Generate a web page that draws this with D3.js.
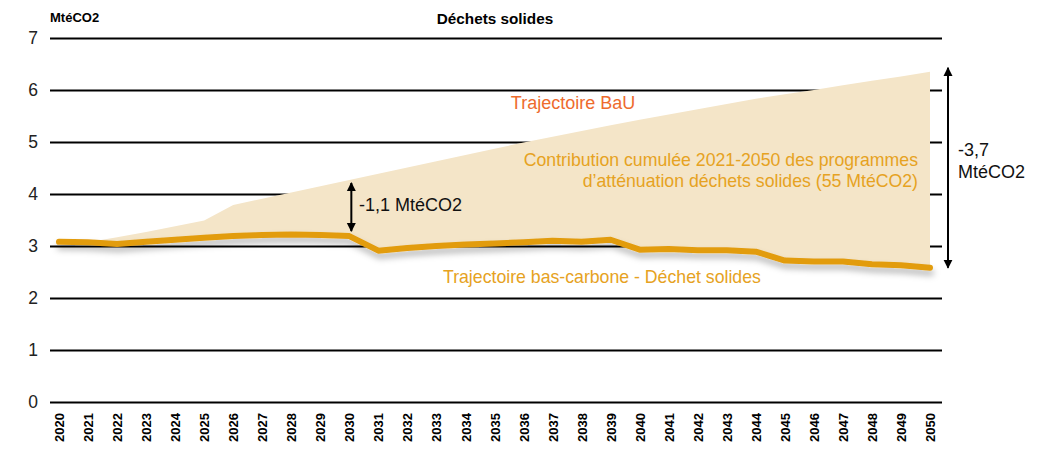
<!DOCTYPE html>
<html>
<head>
<meta charset="utf-8">
<script src="https://cdn.jsdelivr.net/npm/d3@7"></script>
<style>
  html, body { margin: 0; padding: 0; background: #fff; }
  svg { display: block; font-family: "Liberation Sans", Arial, sans-serif; }
</style>
</head>
<body>
<svg id="chart" width="1049" height="452"></svg>
<script>
// Years on the horizontal axis
const years = [2020, 2021, 2022, 2023, 2024, 2025, 2026, 2027, 2028, 2029, 2030,
  2031, 2032, 2033, 2034, 2035, 2036, 2037, 2038, 2039, 2040,
  2041, 2042, 2043, 2044, 2045, 2046, 2047, 2048, 2049, 2050];

// Business-as-usual emissions (MtéCO2)
const bau = [3.08, 3.07, 3.17, 3.27, 3.38, 3.49, 3.79, 3.91, 4.03, 4.15, 4.27,
  4.39, 4.51, 4.63, 4.75, 4.87, 4.99, 5.10, 5.21, 5.32, 5.43,
  5.53, 5.63, 5.73, 5.83, 5.92, 6.00, 6.09, 6.18, 6.26, 6.35];

// Low-carbon pathway for solid waste (MtéCO2)
const lowCarbon = [3.08, 3.07, 3.04, 3.08, 3.12, 3.16, 3.19, 3.21, 3.22, 3.21, 3.19,
  2.91, 2.96, 3.00, 3.03, 3.05, 3.07, 3.10, 3.08, 3.12, 2.93,
  2.94, 2.92, 2.92, 2.89, 2.72, 2.70, 2.70, 2.65, 2.63, 2.58];

const yTicks = [0, 1, 2, 3, 4, 5, 6, 7];

// Gap annotations: year and label lines
const gap2030 = { year: 2030, label: ["-1,1 MtéCO2"] };
const gap2050 = { year: 2050, label: ["-3,7", "MtéCO2"] };

const rows = years.map((yr, i) => ({ year: yr, bau: bau[i], low: lowCarbon[i] }));

const svg = d3.select("#chart");
const FONT = "Liberation Sans, Arial, sans-serif";

const x = d3.scalePoint().domain(years).range([59, 930]);
const y = d3.scaleLinear().domain([0, 7]).range([402, 38]);

const gridLeft = 50, gridRight = 942;

// Soft shadow beneath the low-carbon line
const defs = svg.append("defs");
const f = defs.append("filter").attr("id", "shadow")
  .attr("x", "-5%").attr("y", "-50%").attr("width", "110%").attr("height", "200%");
f.append("feDropShadow").attr("dx", 1).attr("dy", 5).attr("stdDeviation", 3)
  .attr("flood-color", "#000").attr("flood-opacity", 0.28);

defs.append("marker").attr("id", "arrow")
  .attr("viewBox", "0 0 10 10").attr("refX", 9).attr("refY", 5)
  .attr("markerWidth", 4.5).attr("markerHeight", 6.5)
  .attr("markerUnits", "strokeWidth")
  .attr("orient", "auto-start-reverse")
  .append("path").attr("d", "M0,0 L10,5 L0,10 Z").attr("fill", "#000");

// Horizontal gridlines and y tick labels
const yAxis = d3.axisLeft(y).tickValues(yTicks).tickFormat(d3.format("d"))
  .tickSize(-(gridRight - gridLeft)).tickPadding(12);
const gy = svg.append("g").attr("transform", `translate(${gridLeft},0)`).call(yAxis);
gy.select(".domain").remove();
gy.selectAll(".tick line").attr("stroke", "#000").attr("stroke-width", 2);
gy.selectAll(".tick text").attr("font-size", 17.5).attr("fill", "#222")
  .attr("font-family", FONT);

// Cumulative mitigation area between BaU and the low-carbon pathway
const area = d3.area()
  .x(d => x(d.year))
  .y0(d => y(d.low))
  .y1(d => y(d.bau));
svg.append("path").datum(rows).attr("d", area).attr("fill", "#F4E5C8");

// Low-carbon pathway line
const line = d3.line().x(d => x(d.year)).y(d => y(d.low));
svg.append("path").datum(rows).attr("d", line)
  .attr("fill", "none").attr("stroke", "#E29C10").attr("stroke-width", 6)
  .attr("stroke-linecap", "round").attr("stroke-linejoin", "round")
  .attr("filter", "url(#shadow)");

// X axis year labels (rotated)
const xAxis = d3.axisBottom(x).tickSize(0).tickPadding(0);
const gx = svg.append("g").attr("transform", "translate(0,413)").call(xAxis);
gx.select(".domain").remove();
gx.selectAll(".tick text")
  .attr("font-size", 13).attr("font-weight", "bold").attr("fill", "#000")
  .attr("font-family", FONT)
  .attr("transform", "rotate(-90)")
  .attr("text-anchor", "end")
  .attr("dx", 0).attr("dy", "0.35em").attr("x", 0).attr("y", 0);

// Titles
svg.append("text").attr("x", 50).attr("y", 22).text("MtéCO2")
  .attr("font-size", 13).attr("font-weight", "bold").attr("fill", "#000");
svg.append("text").attr("x", 495).attr("y", 24).attr("text-anchor", "middle")
  .text("Déchets solides").attr("font-size", 15.3).attr("font-weight", "bold").attr("fill", "#000");

// Series labels
svg.append("text").attr("x", 573).attr("y", 109).attr("text-anchor", "middle")
  .text("Trajectoire BaU").attr("font-size", 18).attr("fill", "#EE6B2D");
const contrib = svg.append("text").attr("text-anchor", "end")
  .attr("font-size", 17.7).attr("fill", "#E6A222");
contrib.append("tspan").attr("x", 918).attr("y", 166).text("Contribution cumulée 2021-2050 des programmes");
contrib.append("tspan").attr("x", 918).attr("y", 187).text("d’atténuation déchets solides (55 MtéCO2)");
svg.append("text").attr("x", 443).attr("y", 283)
  .text("Trajectoire bas-carbone - Déchet solides").attr("font-size", 17.7).attr("fill", "#E6A222");

// Gap arrows between BaU and the low-carbon pathway
function gapArrow(g, ax, offsetTop, offsetBottom, tx, ty, lh) {
  const i = years.indexOf(g.year);
  svg.append("line")
    .attr("x1", ax).attr("x2", ax)
    .attr("y1", y(bau[i]) + offsetTop).attr("y2", y(lowCarbon[i]) + offsetBottom)
    .attr("stroke", "#000").attr("stroke-width", 2)
    .attr("marker-start", "url(#arrow)").attr("marker-end", "url(#arrow)");
  const t = svg.append("text").attr("font-size", 18).attr("fill", "#111");
  g.label.forEach((s, k) => t.append("tspan").attr("x", tx).attr("y", ty + k * lh).text(s));
}
gapArrow(gap2030, x(2030) + 2, 3, -5, 359, 211, 0);
gapArrow(gap2050, 948, -4, 0, 958, 156, 22);
</script>
</body>
</html>
